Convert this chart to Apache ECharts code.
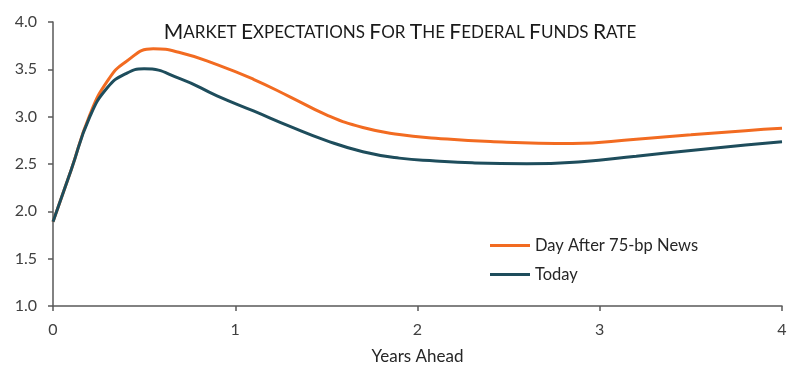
<!DOCTYPE html>
<html>
<head>
<meta charset="utf-8">
<script src="https://cdn.jsdelivr.net/npm/echarts@6/dist/echarts.min.js"></script>
<style>html,body{margin:0;padding:0;background:#fff}#c{width:800px;height:378px}</style>
</head>
<body>
<div id="c"></div>
<script>
const titleText = 'Market Expectations For The Federal Funds Rate';
const xAxisName = 'Years Ahead';
const seriesNames = ['Day After 75-bp News', 'Today'];
const dayAfterYears = [0,    0.1,  0.2,  0.3,  0.4,  0.55,  0.7,   0.9,  1.1,   1.3,  1.5,  1.7,   1.9,   2.1,   2.4,   2.85,  3.2,   3.5,   3.8,   4.0];
const dayAfter      = [1.89, 2.44, 3.01, 3.38, 3.58, 3.717, 3.675, 3.55, 3.395, 3.21, 3.02, 2.885, 2.812, 2.773, 2.737, 2.717, 2.762, 2.808, 2.852, 2.877];
const todayYears    = [0,    0.1,  0.2,  0.3,  0.4,   0.5,   0.7,  0.9,  1.1,  1.3,   1.5,   1.7,   1.9,   2.1,   2.3,   2.6,   2.9,   3.2,   3.5,   3.8,  4.0];
const today         = [1.89, 2.44, 2.99, 3.31, 3.455, 3.505, 3.40, 3.22, 3.06, 2.897, 2.747, 2.63,  2.562, 2.532, 2.512, 2.503, 2.525, 2.582, 2.643, 2.70, 2.735];

function smallCaps(s) {
  return s.split(' ').map(w => '{b|' + w[0].toUpperCase() + '}{s|' + w.slice(1).toUpperCase() + '}').join('{s| }');
}
const font = 'Lato, "Open Sans", sans-serif';
const chart = echarts.init(document.getElementById('c'), null, {renderer: 'canvas'});
chart.setOption({
  animation: false,
  backgroundColor: '#ffffff',
  textStyle: {fontFamily: font},
  title: {
    text: smallCaps(titleText),
    left: 'center',
    top: 17,
    textStyle: {
      fontWeight: 'normal',
      rich: {
        b: {fontSize: 21, color: '#1a1a1a', fontFamily: font, fontWeight: 'normal'},
        s: {fontSize: 17, color: '#1a1a1a', fontFamily: font, fontWeight: 'normal'}
      }
    }
  },
  legend: {
    orient: 'vertical',
    left: 485,
    top: 232,
    itemGap: 12,
    itemWidth: 40,
    itemHeight: 3,
    icon: 'rect',
    textStyle: {fontSize: 16.5, color: '#262626', fontFamily: font},
    data: seriesNames
  },
  grid: {left: 53, right: 18, top: 22, bottom: 72, containLabel: false},
  xAxis: {
    type: 'value',
    min: 0, max: 4, interval: 1,
    name: xAxisName,
    nameLocation: 'middle',
    nameGap: 42,
    nameTextStyle: {fontSize: 17, color: '#262626', fontFamily: font},
    axisLine: {lineStyle: {color: '#595959', width: 1.5}},
    axisTick: {show: true, length: 5, lineStyle: {color: '#595959', width: 1.5}},
    axisLabel: {fontSize: 16, color: '#404040', margin: 16, fontFamily: font},
    splitLine: {show: false}
  },
  yAxis: {
    type: 'value',
    min: 1, max: 4, interval: 0.5,
    axisLine: {show: true, lineStyle: {color: '#595959', width: 1.5}},
    axisTick: {show: true, length: 5, lineStyle: {color: '#595959', width: 1.5}},
    axisLabel: {fontSize: 16, color: '#404040', margin: 16, fontFamily: font, formatter: v => v.toFixed(1)},
    splitLine: {show: false}
  },
  series: [
    {
      name: seriesNames[0], type: 'line', smooth: 0.5, showSymbol: false, symbol: 'none',
      color: '#f26b21', lineStyle: {width: 3, color: '#f26b21'},
      data: dayAfterYears.map((x, i) => [x, dayAfter[i]])
    },
    {
      name: seriesNames[1], type: 'line', smooth: 0.5, showSymbol: false, symbol: 'none',
      color: '#1e4d5c', lineStyle: {width: 3, color: '#1e4d5c'},
      data: todayYears.map((x, i) => [x, today[i]])
    }
  ]
});
</script>
</body>
</html>
